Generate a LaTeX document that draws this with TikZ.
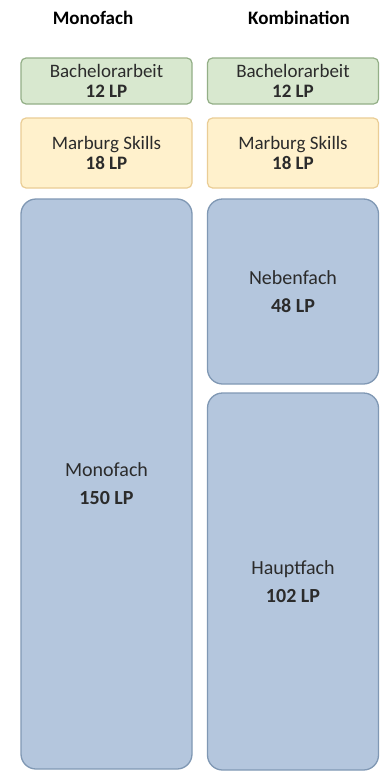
\documentclass[tikz,border=0pt]{standalone}
\usepackage{fontspec}
\setmainfont{Carlito}
\usepackage{tikz}
\usepackage{xcolor}
\usetikzlibrary{positioning}
\definecolor{inktext}{HTML}{2B2B2B}
\definecolor{grnfill}{HTML}{D8E8CF}
\definecolor{grnline}{HTML}{93AF87}
\definecolor{ylwfill}{HTML}{FFF1CC}
\definecolor{ylwline}{HTML}{EACD95}
\definecolor{blufill}{HTML}{B4C6DD}
\definecolor{bluline}{HTML}{8098B4}
\tikzset{
  header/.style={font=\fontsize{19}{20}\selectfont\bfseries,text=black},
  smallcard/.style={rectangle,rounded corners=5pt,line width=1.2pt,
                    minimum width=171pt,inner sep=0pt,align=center,
                    text=inktext,font=\fontsize{19}{19.5}\selectfont},
  greencard/.style={smallcard,draw=grnline,fill=grnfill,minimum height=46pt},
  yellowcard/.style={smallcard,draw=ylwline,fill=ylwfill,minimum height=70pt},
  bluecard/.style={rectangle,rounded corners=15pt,line width=1.3pt,
                   draw=bluline,fill=blufill,minimum width=171pt,inner sep=0pt,
                   align=center,text=inktext,font=\fontsize{20}{28}\selectfont}
}
\begin{document}
\begin{tikzpicture}[x=1pt,y=-1pt]
    \path[use as bounding box,fill=white] (0,0) rectangle (381,771);

    \node[header] (monohead) at (93,18) {Monofach};
    \node[header] (kombihead) at (299,18) {Kombination};

    \node[greencard] (bamono) at (106.5,81) {Bachelorarbeit\\\textbf{12 LP}};
    \node[greencard] (bakombi) at (293,81) {Bachelorarbeit\\\textbf{12 LP}};

    \node[yellowcard] (skmono) at (106.5,153) {Marburg Skills\\\textbf{18 LP}};
    \node[yellowcard] (skkombi) at (293,153) {Marburg Skills\\\textbf{18 LP}};

    \node[bluecard,minimum height=570pt] (mono) at (106.5,484)
      {Monofach\\\textbf{150 LP}};
    \node[bluecard,minimum height=185pt] (neben) at (293,291.5)
      {Nebenfach\\\textbf{48 LP}};
    \node[bluecard,minimum height=377pt] (haupt) at (293,581.5)
      {Hauptfach\\\textbf{102 LP}};
  \end{tikzpicture}
\end{document}
